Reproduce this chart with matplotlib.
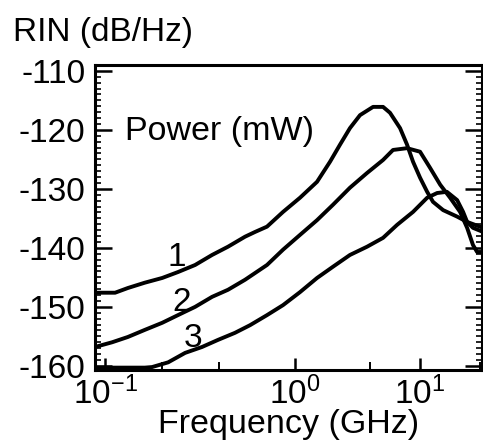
import numpy as np
import matplotlib
matplotlib.use("Agg")
import matplotlib.pyplot as plt
from matplotlib.ticker import FixedLocator, MultipleLocator

plt.rcParams['font.family'] = ['Liberation Sans', 'DejaVu Sans']
plt.rcParams['mathtext.fontset'] = 'custom'
plt.rcParams['mathtext.rm'] = 'Liberation Sans'

# curve "1"
freq_1 = [0.0886, 0.113, 0.132, 0.162, 0.200, 0.242, 0.298, 0.366, 0.444, 0.546, 0.616,
          0.712, 0.865, 1.096, 1.50, 1.905, 2.29, 2.75, 3.31, 4.21, 5.06, 5.75, 6.92,
          7.87, 8.79, 10.0, 11.4, 12.7, 15.3, 19.8, 23.8, 31.9]
rin_1 = [-147.6, -147.6, -146.8, -145.9, -145.1, -144.1, -142.9, -141.2, -139.8, -138.1, -137.3,
         -136.4, -133.9, -131.5, -128.8, -125.4, -122.5, -119.7, -117.5, -116.1, -116.1, -117.1, -119.7,
         -122.5, -125.4, -128.1, -130.5, -132.2, -133.6, -134.7, -135.6, -136.6]

# curve "2"
freq_2 = [0.0886, 0.109, 0.132, 0.162, 0.200, 0.242, 0.298, 0.366, 0.444, 0.546, 0.712,
          0.865, 1.096, 1.50, 2.01, 2.75, 3.77, 5.06, 6.08, 7.87, 10.0, 12.0, 14.5,
          17.4, 20.9, 23.8, 26.5, 28.6, 31.9]
rin_2 = [-156.8, -156.0, -155.1, -153.9, -152.7, -151.4, -150.0, -148.3, -147.1, -145.4, -142.9,
         -140.3, -137.8, -135.3, -132.7, -129.8, -127.3, -125.1, -123.4, -123.1, -123.7, -126.4, -129.3,
         -131.5, -133.9, -136.6, -139.5, -140.7, -140.7]

# curve "3"
freq_3 = [0.0886, 0.162, 0.177, 0.215, 0.264, 0.324, 0.393, 0.483, 0.580, 0.712, 0.865,
          1.096, 1.50, 2.01, 2.75, 3.77, 5.06, 6.55, 8.79, 11.4, 13.7, 16.4, 19.8,
          22.1, 23.8, 26.5, 31.9]
rin_3 = [-160.3, -160.3, -160.2, -159.4, -157.8, -156.8, -155.6, -154.4, -153.1, -151.4, -149.7,
         -147.5, -145.1, -143.2, -141.2, -139.8, -138.3, -136.1, -133.9, -131.5, -130.7, -130.5, -131.9,
         -133.9, -135.6, -136.6, -137.3]

curve_labels = ['1', '2', '3']
label_freq = [0.239, 0.254, 0.290]
label_rin = [-141.7, -149.2, -155.3]

x_major = [0.1, 1, 10]
x_major_labels = [r'$\mathregular{10^{-1}}$', r'$\mathregular{10^{0}}$', r'$\mathregular{10^{1}}$']
x_minor = [0.2, 0.4, 4, 30]
y_major = [-110, -120, -130, -140, -150, -160]


# the printed axis is not a clean log axis: the first decade is wider than the second
def fwd(f):
    lf = np.log10(np.clip(f, 1e-6, None))
    return np.where(lf < 0, 190.0 * lf, 125.0 * lf)


def inv(u):
    u = np.asarray(u, dtype=float)
    return np.where(u < 0, 10 ** (u / 190.0), 10 ** (u / 125.0))


fig = plt.figure(figsize=(4.83, 4.46), dpi=100)
ax = fig.add_axes([95 / 483, 76 / 446, 387 / 483, 305 / 446])
ax.set_xscale('function', functions=(fwd, inv))

for fr, rv in [(freq_1, rin_1), (freq_2, rin_2), (freq_3, rin_3)]:
    ax.plot(fr, rv, color='black', lw=2.8, solid_capstyle='round', solid_joinstyle='round')

for t, fx, ry in zip(curve_labels, label_freq, label_rin):
    ax.text(fx, ry, t, fontsize=24, ha='center', va='center')

ax.text(0.127, -120.3, 'Power (mW)', fontsize=24.5, ha='left', va='center')

ax.set_xlim(0.0886, 31.3)
ax.set_ylim(-160.7, -109.0)

ax.xaxis.set_major_locator(FixedLocator(x_major))
ax.set_xticklabels(x_major_labels)
ax.xaxis.set_minor_locator(FixedLocator(x_minor))
ax.yaxis.set_major_locator(FixedLocator(y_major))
ax.set_yticklabels([str(v) for v in y_major])
ax.yaxis.set_minor_locator(MultipleLocator(1))

ax.tick_params(axis='both', which='major', direction='in', labelsize=24, width=1.8, color='black')
ax.tick_params(axis='y', which='major', length=12, pad=7, right=True)
ax.tick_params(axis='x', which='major', length=9, pad=5)
ax.tick_params(axis='y', which='minor', direction='in', length=4, width=1.2, right=True)
ax.tick_params(axis='x', which='minor', direction='in', length=6, width=1.4)

for s in ax.spines.values():
    s.set_linewidth(2.2)

ax.set_xlabel('Frequency (GHz)', fontsize=24.5, labelpad=-2)
fig.text(13 / 483, 1 - 33 / 446, 'RIN (dB/Hz)', fontsize=24, ha='left', va='center')

fig.savefig('out.png', dpi=100)
